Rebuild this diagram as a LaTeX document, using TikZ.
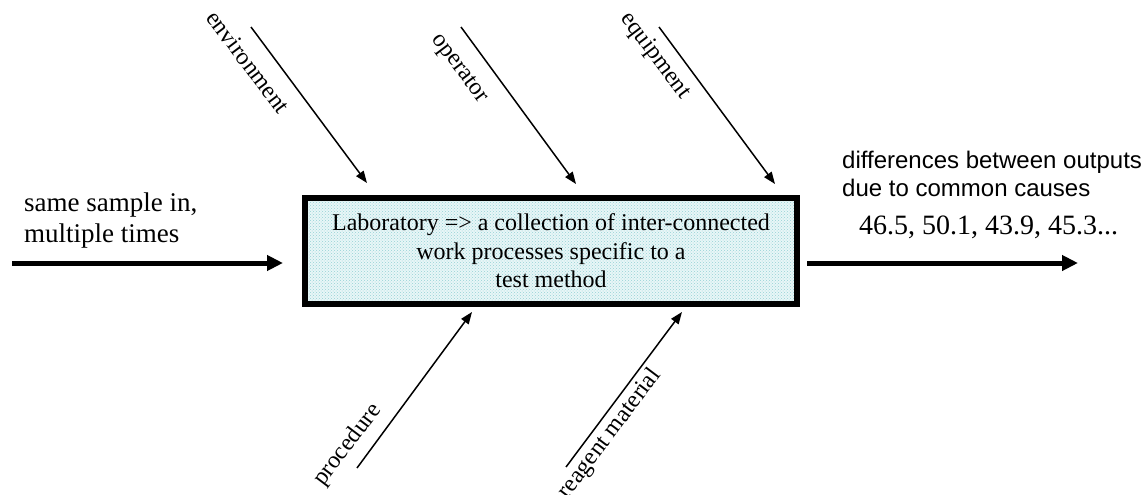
\documentclass[tikz,border=0pt]{standalone}
\usepackage{fontspec}
\setmainfont{Liberation Serif}
\newfontfamily\arialf{Liberation Sans}
\usetikzlibrary{arrows.meta,patterns}
\definecolor{boxfill}{RGB}{232,246,247}
\definecolor{dotcol}{RGB}{150,210,214}
\tikzset{
  thinarrow/.style={line width=1.5pt,-{Triangle[length=12pt,width=9pt]}},
  bigarrow/.style={line width=5pt,-{Triangle[length=16pt,width=15pt]}},
  diaglabel/.style={inner sep=0pt,font=\fontsize{24}{27}\selectfont},
  labbox/.style={draw,line width=6pt,preaction={fill=boxfill},pattern=crosshatch dots,pattern color=dotcol,minimum width=492pt,minimum height=106pt,align=center,font=\fontsize{24}{28.5}\selectfont,inner sep=0pt}
}
\begin{document}
\begin{tikzpicture}[x=1pt,y=-1pt]
\useasboundingbox (0,0) rectangle (1148,495);
% main box
\node[labbox] (lab) at (551,251) {Laboratory => a collection of inter-connected\\work processes specific to a\\test method};
% input
\node[anchor=west,align=left,inner sep=0pt,font=\fontsize{27}{31}\selectfont] (intext) at (24,221) {same sample in,\\multiple times};
\coordinate (inS) at (12,263);
\draw[bigarrow] (inS) -- ([xshift=-19pt]lab.west |- inS);
% output
\node[anchor=west,align=left,inner sep=0pt,font=\arialf\fontsize{24}{28}\selectfont] (outtext) at (842,174) {differences between outputs\\due to common causes};
\node[anchor=base west,inner sep=0pt,font=\fontsize{28}{32}\selectfont] (nums) at (859,234) {46.5, 50.1, 43.9, 45.3...};
\coordinate (outE) at (1078,263);
\draw[bigarrow] ([xshift=7pt]lab.east |- outE) -- (outE);
% causes above
\coordinate (envS) at (251,27);  \coordinate (envE) at (367,183);
\coordinate (opS) at (461,27);   \coordinate (opE) at (576,184);
\coordinate (eqS) at (659,27);   \coordinate (eqE) at (775,184);
\draw[thinarrow] (envS) -- (envE);
\draw[thinarrow] (opS) -- (opE);
\draw[thinarrow] (eqS) -- (eqE);
\node[diaglabel,rotate=-53] (envL) at (248,62) {environment};
\node[diaglabel,rotate=-53] (opL) at (459,69) {operator};
\node[diaglabel,rotate=-53] (eqL) at (655,56) {equipment};
% causes below
\coordinate (prS) at (357,468);  \coordinate (prE) at (472,312);
\coordinate (reS) at (566,467);  \coordinate (reE) at (682,312);
\draw[thinarrow] (prS) -- (prE);
\draw[thinarrow] (reS) -- (reE);
\node[diaglabel,rotate=53] (prL) at (348,445) {procedure};
\node[diaglabel,rotate=53] (reL) at (610,434) {reagent material};
\end{tikzpicture}
\end{document}
